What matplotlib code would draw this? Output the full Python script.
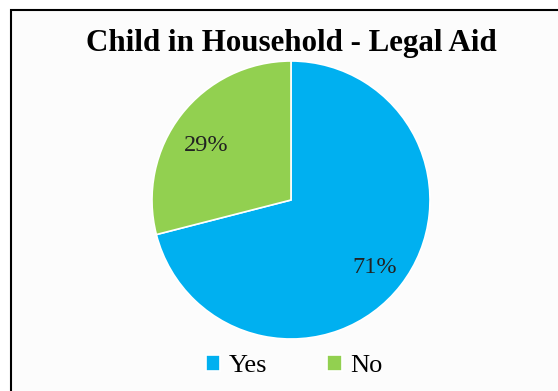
import matplotlib.pyplot as plt
from matplotlib.patches import Rectangle

# share of legal aid cases with a child in the household
labels = ['Yes', 'No']
shares = [71, 29]
colors = ['#00B0F0', '#92D050']

W, H = 558, 391
fig = plt.figure(figsize=(W / 100, H / 100), dpi=100)
fig.patch.set_facecolor('white')

# chart area frame (runs off the right and bottom edges)
fig.patches.append(Rectangle((11 / W, -0.05), 1.0, 1 - 10 / H + 0.05,
                             transform=fig.transFigure, facecolor='#fcfcfc',
                             edgecolor='black', linewidth=1.5, zorder=-1))

cx, cy, r = 291, 200, 139
ax = fig.add_axes([(cx - r) / W, 1 - (cy + r) / H, 2 * r / W, 2 * r / H])
ax.set_facecolor('none')
ax.set_zorder(1)

wedges, texts = ax.pie(shares, colors=colors, startangle=90, counterclock=False,
                       radius=1.0,
                       wedgeprops=dict(edgecolor='white', linewidth=1.2))
ax.set_xlim(-1, 1)
ax.set_ylim(-1, 1)
ax.set_aspect('equal')

# percent labels placed inside each wedge
label_pos = [(0.60, -0.47), (-0.61, 0.41)]
for share, (x, y) in zip(shares, label_pos):
    ax.text(x, y - 0.015, '%d%%' % share, ha='center', va='center',
            family='Liberation Serif', fontsize=17.5, color='#222222')

fig.text(0.5215, 1 - 44 / H, 'Child in Household - Legal Aid', ha='center',
         va='center', family='Liberation Serif', fontweight='bold',
         fontsize=22.3, color='black')

fig.legend(wedges, labels, loc='center', bbox_to_anchor=(0.527, 1 - 366 / H),
           ncol=2, frameon=False, prop={'family': 'Liberation Serif', 'size': 19},
           handlelength=0.55, handleheight=0.55, handletextpad=0.3,
           columnspacing=2.3)

fig.savefig('out.png', dpi=100)
